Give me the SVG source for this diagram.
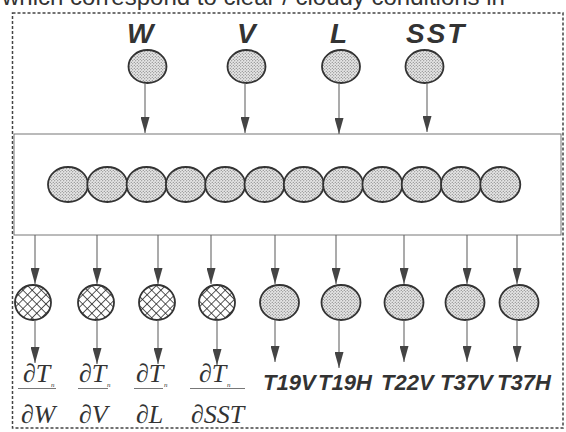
<svg xmlns="http://www.w3.org/2000/svg" width="566" height="432" viewBox="0 0 566 432">
<defs>
<pattern id="dots" width="3" height="3" patternUnits="userSpaceOnUse">
<rect width="3" height="3" fill="#e6e6e6"/>
<circle cx="0.75" cy="0.75" r="0.55" fill="#666"/>
<circle cx="2.25" cy="2.25" r="0.55" fill="#666"/>
</pattern>
<pattern id="hatch" width="6.5" height="6.5" patternUnits="userSpaceOnUse" patternTransform="rotate(45)">
<rect width="6.5" height="6.5" fill="#fff"/>
<line x1="0" y1="0" x2="0" y2="6.5" stroke="#222" stroke-width="1.5"/>
<line x1="0" y1="0" x2="6.5" y2="0" stroke="#222" stroke-width="1.5"/>
</pattern>
<marker id="ah" viewBox="0 0 16 9" refX="16" refY="4.5" markerWidth="16" markerHeight="9" markerUnits="userSpaceOnUse" orient="auto">
<path d="M0,0 L16,4.5 L0,9 z" fill="#444"/>
</marker>
<style>
.dot{fill:url(#dots);stroke:#333;stroke-width:1.8}
.hat{fill:url(#hatch);stroke:#333;stroke-width:1.8}
.conn line{stroke:#666;stroke-width:1.1;marker-end:url(#ah)}
.big{font-family:"Liberation Sans",Arial,sans-serif;font-weight:bold;font-style:italic;font-size:28px;fill:#333}
.out{font-family:"Liberation Sans",Arial,sans-serif;font-weight:bold;font-style:italic;font-size:22px;fill:#333}
.fr{font-family:"Liberation Serif","Times New Roman",serif;font-style:italic;font-size:26px;fill:#333}
.sub{font-family:"Liberation Serif","Times New Roman",serif;font-style:italic;font-size:7px;fill:#333}
.fl{stroke:#777;stroke-width:1}
</style>
</defs>
<rect width="566" height="432" fill="#fff"/>
<text x="2" y="5" font-family="'Liberation Sans',Arial,sans-serif" font-size="24" fill="#333">which correspond to clear / cloudy conditions in</text>
<rect x="12.5" y="13" width="550.5" height="415" fill="none" stroke="#444" stroke-width="1.5" stroke-dasharray="3,2"/>
<rect id="hidden-layer" x="14" y="134" width="547" height="101" fill="none" stroke="#777" stroke-width="1"/>

<g id="in-W"><ellipse class="dot" cx="147.5" cy="66.5" rx="19" ry="16.5"/><text class="big" x="127" y="43">W</text></g>
<g id="in-V"><ellipse class="dot" cx="246.5" cy="66.5" rx="19" ry="16.5"/><text class="big" x="237" y="43">V</text></g>
<g id="in-L"><ellipse class="dot" cx="341" cy="66.5" rx="19" ry="16.5"/><text class="big" x="330" y="43">L</text></g>
<g id="in-SST"><ellipse class="dot" cx="424.5" cy="66.5" rx="19" ry="16.5"/><text class="big" x="406" y="43" letter-spacing="2">SST</text></g>

<g id="hidden-nodes">
<ellipse class="dot" cx="68" cy="184.5" rx="20" ry="17.5"/>
<ellipse class="dot" cx="107.3" cy="184.5" rx="20" ry="17.5"/>
<ellipse class="dot" cx="146.6" cy="184.5" rx="20" ry="17.5"/>
<ellipse class="dot" cx="185.9" cy="184.5" rx="20" ry="17.5"/>
<ellipse class="dot" cx="225.2" cy="184.5" rx="20" ry="17.5"/>
<ellipse class="dot" cx="264.5" cy="184.5" rx="20" ry="17.5"/>
<ellipse class="dot" cx="303.8" cy="184.5" rx="20" ry="17.5"/>
<ellipse class="dot" cx="343.1" cy="184.5" rx="20" ry="17.5"/>
<ellipse class="dot" cx="382.4" cy="184.5" rx="20" ry="17.5"/>
<ellipse class="dot" cx="421.7" cy="184.5" rx="20" ry="17.5"/>
<ellipse class="dot" cx="461" cy="184.5" rx="20" ry="17.5"/>
<ellipse class="dot" cx="500.3" cy="184.5" rx="20" ry="17.5"/>
</g>

<g id="out-dW"><ellipse class="hat" cx="33" cy="302.5" rx="18" ry="17.5"/>
<text class="fr" x="23" y="382">∂T</text><text class="sub" x="51" y="387">n</text>
<line class="fl" x1="18" y1="388.5" x2="56" y2="388.5"/><text class="fr" x="21" y="423">∂W</text></g>
<g id="out-dV"><ellipse class="hat" cx="96" cy="302.5" rx="18" ry="17.5"/>
<text class="fr" x="79" y="382">∂T</text><text class="sub" x="107" y="387">n</text>
<line class="fl" x1="78" y1="388.5" x2="108" y2="388.5"/><text class="fr" x="79" y="423">∂V</text></g>
<g id="out-dL"><ellipse class="hat" cx="157" cy="302.5" rx="18" ry="17.5"/>
<text class="fr" x="136" y="382">∂T</text><text class="sub" x="164" y="387">n</text>
<line class="fl" x1="134" y1="388.5" x2="163" y2="388.5"/><text class="fr" x="136" y="423">∂L</text></g>
<g id="out-dSST"><ellipse class="hat" cx="217" cy="302.5" rx="18" ry="17.5"/>
<text class="fr" x="199" y="382">∂T</text><text class="sub" x="227" y="387">n</text>
<line class="fl" x1="190" y1="388.5" x2="245" y2="388.5"/><text class="fr" x="191" y="423">∂SST</text></g>

<g id="out-T19V"><ellipse class="dot" cx="279.5" cy="302.5" rx="19.5" ry="17.5"/><text class="out" x="263" y="390">T19V</text></g>
<g id="out-T19H"><ellipse class="dot" cx="341" cy="302.5" rx="19.5" ry="17.5"/><text class="out" x="318" y="390">T19H</text></g>
<g id="out-T22V"><ellipse class="dot" cx="404" cy="302.5" rx="19.5" ry="17.5"/><text class="out" x="381" y="390">T22V</text></g>
<g id="out-T37V"><ellipse class="dot" cx="465" cy="302.5" rx="19.5" ry="17.5"/><text class="out" x="440" y="390">T37V</text></g>
<g id="out-T37H"><ellipse class="dot" cx="519" cy="302.5" rx="19.5" ry="17.5"/><text class="out" x="497" y="390">T37H</text></g>

<g id="connectors" class="conn">
<line x1="145" y1="83" x2="145" y2="133"/>
<line x1="245" y1="83" x2="245" y2="133"/>
<line x1="339" y1="83" x2="339" y2="134"/>
<line x1="427" y1="83" x2="427" y2="132"/>

<line x1="35" y1="235" x2="35" y2="284"/>
<line x1="97" y1="235" x2="97" y2="284"/>
<line x1="158" y1="235" x2="158" y2="284"/>
<line x1="211" y1="235" x2="211" y2="284"/>
<line x1="275" y1="235" x2="275" y2="284"/>
<line x1="336" y1="235" x2="336" y2="284"/>
<line x1="404" y1="235" x2="404" y2="284"/>
<line x1="467" y1="235" x2="467" y2="284"/>
<line x1="517" y1="235" x2="517" y2="284"/>

<line x1="35" y1="320" x2="35" y2="363"/>
<line x1="97" y1="320" x2="97" y2="364"/>
<line x1="158" y1="320" x2="158" y2="364"/>
<line x1="217" y1="320" x2="217" y2="365"/>
<line x1="275" y1="320" x2="275" y2="362"/>
<line x1="339" y1="320" x2="339" y2="368"/>
<line x1="404" y1="320" x2="404" y2="362"/>
<line x1="467" y1="320" x2="467" y2="362"/>
<line x1="517" y1="320" x2="517" y2="362"/>
</g>
</svg>
